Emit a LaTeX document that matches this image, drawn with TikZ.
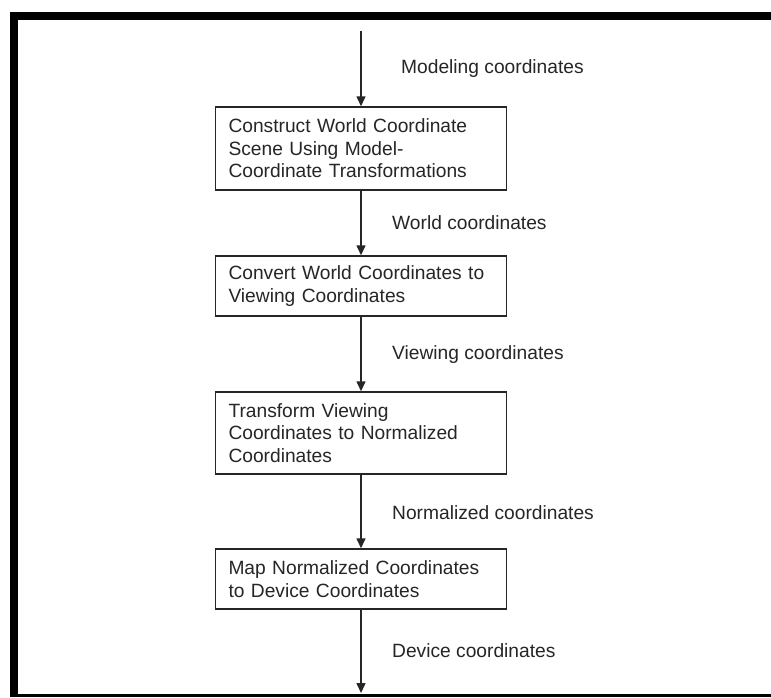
\documentclass[tikz,border=0pt]{standalone}
\usepackage{fontspec}
\setmainfont{Liberation Sans}
\usetikzlibrary{arrows.meta}
\begin{document}
\begin{tikzpicture}[x=1pt,y=-1pt,
  stagebox/.style={draw=black!85,line width=1.5pt,align=left,text width=265pt,
    inner xsep=13pt,inner ysep=0pt,minimum height=#1,
    font=\fontsize{19.2}{22.5}\selectfont,text=black!85},
  flow/.style={draw=black!85,line width=1.5pt,-{Triangle[length=10pt,width=9pt]}},
  lbl/.style={anchor=base west,inner sep=0pt,font=\fontsize{19.2}{22.5}\selectfont,text=black!85}]
\useasboundingbox[fill=white] (0,0) rectangle (771,697);
% frame
\fill[black] (10,12) rectangle (771,20);
\fill[black] (10,12) rectangle (18,697);
\fill[black] (10,694) rectangle (771,697);
% nodes
\coordinate (start) at (361,31);
\coordinate (finish) at (361,693);
\node[stagebox=83pt] (b1) at (361,148.5) {Construct World Coordinate\\Scene Using Model-\\Coordinate Transformations};
\node[stagebox=60pt] (b2) at (361,286) {Convert World Coordinates to\\Viewing Coordinates};
\node[stagebox=82pt] (b3) at (361,433) {Transform Viewing\\Coordinates to Normalized\\Coordinates};
\node[stagebox=60pt] (b4) at (361,579) {Map Normalized Coordinates\\to Device Coordinates};
% connectors
\draw[flow] (start) -- (b1.north);
\draw[flow] (b1.south) -- (b2.north);
\draw[flow] (b2.south) -- (b3.north);
\draw[flow] (b3.south) -- (b4.north);
\draw[flow] (b4.south) -- (finish);
% labels
\node[lbl] (l0) at (401,73) {Modeling coordinates};
\node[lbl] (l1) at (392,229) {World coordinates};
\node[lbl] (l2) at (392,359) {Viewing coordinates};
\node[lbl] (l3) at (392,519) {Normalized coordinates};
\node[lbl] (l4) at (392,657) {Device coordinates};
\end{tikzpicture}
\end{document}
